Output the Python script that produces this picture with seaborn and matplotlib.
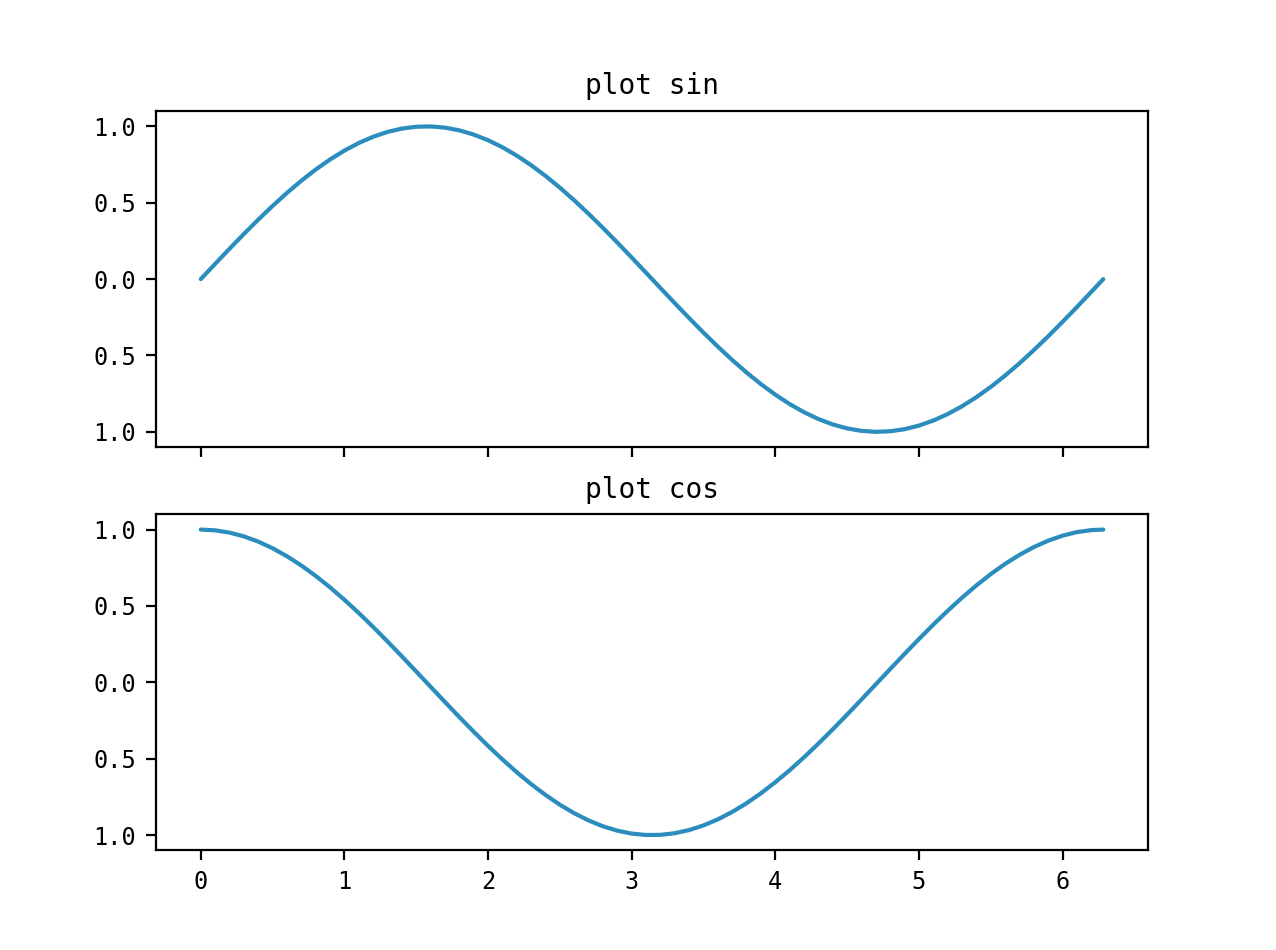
import matplotlib
matplotlib.use("Agg")
import matplotlib.pyplot as plt
import seaborn as sns
import pandas as pd

# Values
x_vals = [0.0, 0.1, 0.2, 0.3, 0.4, 0.5, 0.6, 0.7, 0.8, 0.9,
          1.0, 1.1, 1.2, 1.3, 1.4, 1.5, 1.6, 1.7, 1.8, 1.9,
          2.0, 2.1, 2.2, 2.3, 2.4, 2.5, 2.6, 2.7, 2.8, 2.9,
          3.0, 3.1, 3.2, 3.3, 3.4, 3.5, 3.6, 3.7, 3.8, 3.9,
          4.0, 4.1, 4.2, 4.3, 4.4, 4.5, 4.6, 4.7, 4.8, 4.9,
          5.0, 5.1, 5.2, 5.3, 5.4, 5.5, 5.6, 5.7, 5.8, 5.9,
          6.0, 6.1, 6.2, 6.283]
sin_vals = [0.0, 0.0998, 0.1987, 0.2955, 0.3894, 0.4794, 0.5646, 0.6442, 0.7174, 0.7833,
            0.8415, 0.8912, 0.9320, 0.9636, 0.9854, 0.9975, 0.9996, 0.9917, 0.9738, 0.9463,
            0.9093, 0.8632, 0.8085, 0.7457, 0.6755, 0.5985, 0.5155, 0.4274, 0.3350, 0.2392,
            0.1411, 0.0416, -0.0584, -0.1577, -0.2555, -0.3508, -0.4425, -0.5298, -0.6119, -0.6878,
            -0.7568, -0.8183, -0.8716, -0.9162, -0.9516, -0.9775, -0.9937, -0.9999, -0.9962, -0.9825,
            -0.9589, -0.9258, -0.8835, -0.8323, -0.7728, -0.7055, -0.6313, -0.5507, -0.4646, -0.3739,
            -0.2794, -0.1822, -0.0831, 0.0]
cos_vals = [1.0, 0.9950, 0.9801, 0.9553, 0.9211, 0.8776, 0.8253, 0.7648, 0.6967, 0.6216,
            0.5403, 0.4536, 0.3624, 0.2675, 0.1700, 0.0707, -0.0292, -0.1288, -0.2272, -0.3233,
            -0.4161, -0.5048, -0.5885, -0.6663, -0.7374, -0.8011, -0.8569, -0.9041, -0.9422, -0.9710,
            -0.9900, -0.9991, -0.9983, -0.9875, -0.9668, -0.9365, -0.8968, -0.8481, -0.7910, -0.7259,
            -0.6536, -0.5748, -0.4903, -0.4008, -0.3073, -0.2108, -0.1122, -0.0124, 0.0875, 0.1865,
            0.2837, 0.3780, 0.4685, 0.5544, 0.6347, 0.7087, 0.7756, 0.8347, 0.8855, 0.9275,
            0.9602, 0.9833, 0.9965, 1.0]

titles = ["plot sin", "plot cos"]
y_ticks = [-1.0, -0.5, 0.0, 0.5, 1.0]
y_tick_labels = ["1.0", "0.5", "0.0", "0.5", "1.0"]  # as shown (minus sign missing in reference)
x_ticks = [0, 1, 2, 3, 4, 5, 6]

sns.set_style("ticks", {"axes.edgecolor": "black", "xtick.color": "black",
                        "ytick.color": "black", "text.color": "black",
                        "axes.labelcolor": "black"})
plt.rcParams["font.family"] = ["DejaVu Sans Mono", "Noto Sans CJK SC", "DejaVu Sans"]
plt.rcParams["xtick.major.size"] = 3.5
plt.rcParams["ytick.major.size"] = 3.5
plt.rcParams["axes.linewidth"] = 0.8

df = pd.DataFrame({"x": x_vals, "sin": sin_vals, "cos": cos_vals})

fig, axes = plt.subplots(2, 1, sharex=True, figsize=(6.38, 4.75), dpi=200)
fig.subplots_adjust(left=0.122, right=0.9, bottom=0.105, top=0.883, hspace=0.2)

line_color = "#2b8cbe"
for ax, col, title in zip(axes, ["sin", "cos"], titles):
    sns.lineplot(data=df, x="x", y=col, ax=ax, color=line_color, linewidth=1.5, sort=False)
    ax.set_title(title, fontsize=10, pad=6)
    ax.set_xlabel("")
    ax.set_ylabel("")
    ax.set_yticks(y_ticks)
    ax.set_yticklabels(y_tick_labels)
    ax.tick_params(labelsize=8.5)

axes[1].set_xticks(x_ticks)
axes[1].set_xticklabels([str(t) for t in x_ticks])

fig.savefig("out.png", dpi=200)
